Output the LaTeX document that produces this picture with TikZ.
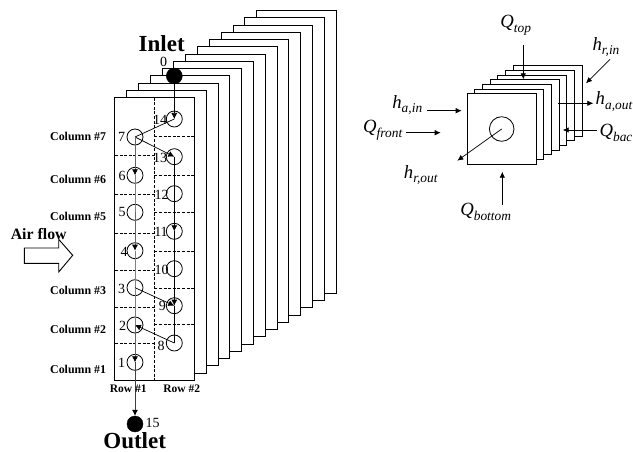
\documentclass[tikz,border=0pt]{standalone}
\usepackage{fontspec}
\setmainfont{Liberation Serif}
\usetikzlibrary{arrows.meta}
\newcommand{\qlab}[2]{{\fontsize{18.7}{19}\selectfont\itshape #1\raisebox{-0.24em}{\fontsize{13.4}{14}\selectfont #2}}}
\tikzset{
  x=1pt,y=-1pt,
  plate/.style={draw=black,fill=white,line width=0.9pt},
  holecirc/.style={circle,draw=black,line width=0.8pt,minimum size=16pt,inner sep=0pt},
  portdot/.style={circle,fill=black,draw=black,minimum size=16pt,inner sep=0pt},
  gridline/.style={dashed,dash pattern=on 3pt off 1.6pt,line width=0.8pt},
  flowtip/.style={-{Latex[length=6pt,width=6pt,black]},line width=0.7pt},
  flowline/.style={line width=0.7pt},
  flowtipgray/.style={flowtip,draw=black!60},
  flowgray/.style={flowline,draw=black!50},
  numlab/.style={inner sep=0pt,font=\fontsize{14}{14}\selectfont},
  collab/.style={inner sep=0pt,anchor=west,font=\fontsize{11.9}{12}\selectfont\bfseries},
  rowlab/.style={inner sep=0pt,font=\fontsize{11.5}{12}\selectfont\bfseries},
  biglab/.style={inner sep=0pt,font=\fontsize{23}{23}\selectfont\bfseries},
  qnode/.style={inner sep=0pt},
  heat/.style={-{Latex[length=6pt,width=5.5pt]},line width=0.7pt},
}
\begin{document}
\begin{tikzpicture}
\useasboundingbox (0,0) rectangle (633,452);
% large stack of plates
\foreach \i in {12,11,...,0}{
  \draw[plate] ({114.7+11.83*\i},{97.7-7.25*\i}) rectangle ({194.3+11.83*\i},{380.3-7.25*\i});
}
% grid
\draw[gridline] (154.3,97.7) -- (154.3,380.3);
\foreach \y in {155.7,194,233,270,307,343.7}{\draw[gridline] (115,\y) -- (154.3,\y);}
\foreach \y in {136.7,175,212.7,251,288,324.7}{\draw[gridline] (154.3,\y) -- (194,\y);}
% holes
\node[holecirc] (n1) at (135,362.3) {};
\node[holecirc] (n2) at (135,325) {};
\node[holecirc] (n3) at (135,287.7) {};
\node[holecirc] (n4) at (135,250.7) {};
\node[holecirc] (n5) at (135,212.3) {};
\node[holecirc] (n6) at (135,175.3) {};
\node[holecirc] (n7) at (135,137) {};
\node[holecirc] (n8) at (174.3,343) {};
\node[holecirc] (n9) at (174.3,305.7) {};
\node[holecirc] (n10) at (174.3,268.7) {};
\node[holecirc] (n11) at (174.3,231.3) {};
\node[holecirc] (n12) at (174.3,193.7) {};
\node[holecirc] (n13) at (174.3,156.7) {};
\node[holecirc] (n14) at (174.3,119) {};
\node[portdot] (inlet) at (174.3,76) {};
\node[portdot] (outlet) at (135,424) {};
% connectors
\draw[flowtip] (inlet) -- (n14.center);
\draw[flowline] (n14.center) -- (n7.center);
\draw[flowtip] (n7.center) -- (n13.center);
\draw[flowline] (n13.center) -- (n12.center);
\draw[flowtip] (n12.center) -- (n11.center);
\draw[flowline] (n11.center) -- (n10.center);
\draw[flowtip] (n10.center) -- (n9.center);
\draw[flowline] (n9.center) -- (n8.center);
\draw[flowtip] (n8.center) -- (n2.center);
\draw[flowtipgray] (n7.center) -- (n6.center);
\draw[flowgray] (n6.center) -- (n5.center);
\draw[flowtipgray] (n5.center) -- (n4.center);
\draw[flowgray] (n4.center) -- (n3.center);
\draw[flowtip] (n3.center) -- (n9.center);
\draw[flowgray] (n3.center) -- (n2.center);
\draw[flowtipgray] (n2.center) -- (n1.center);
\draw[flowtipgray,draw=black!75] (n1.center) -- (outlet);
% numbers
\node[numlab] (l0) at (163.7,61.5) {0};
\node[numlab] (l14) at (160,120) {14};
\node[numlab] (l7) at (121.7,137) {7};
\node[numlab] (l13) at (160,158) {13};
\node[numlab] (l6) at (122,176) {6};
\node[numlab] (l12) at (161.5,194.5) {12};
\node[numlab] (l5) at (122,212) {5};
\node[numlab] (l11) at (161,232) {11};
\node[numlab] (l4) at (124,252) {4};
\node[numlab] (l10) at (161.7,269.7) {10};
\node[numlab] (l3) at (121.7,288.7) {3};
\node[numlab] (l9) at (162.3,306) {9};
\node[numlab] (l2) at (122.7,326.3) {2};
\node[numlab] (l8) at (161,346) {8};
\node[numlab] (l1) at (121.7,363) {1};
\node[numlab] (l15) at (152.5,422.5) {15};
% column and row labels
\node[collab] (c7) at (50,136) {Column \#7};
\node[collab] (c6) at (50,179) {Column \#6};
\node[collab] (c5) at (50,216) {Column \#5};
\node[collab] (c3) at (50,290) {Column \#3};
\node[collab] (c2) at (50,329) {Column \#2};
\node[collab] (c1) at (50,369) {Column \#1};
\node[rowlab] (r1) at (128.3,389) {Row \#1};
\node[rowlab] (r2) at (181.7,389) {Row \#2};
\node[biglab] (inl) at (161.7,43.5) {Inlet};
\node[biglab] (outl) at (134.7,440.5) {Outlet};
\node[inner sep=0pt,font=\fontsize{15.8}{16}\selectfont\bfseries] (air) at (38.7,234.3) {Air flow};
% block arrow
\draw[line width=0.9pt,fill=white] (24.3,248) -- (58.7,248) -- (58.7,239.3) -- (72.7,255.3) -- (58.7,272) -- (58.7,263.3) -- (24.3,263.3) -- cycle;
% small stack
\foreach \i in {6,5,...,0}{
  \draw[plate,line width=0.8pt] ({467+7.7*\i},{93.7-4.67*\i}) rectangle ({536+7.7*\i},{164-4.67*\i});
}
\node[circle,draw=black,line width=0.8pt,minimum size=24.6pt,inner sep=0pt] (hole) at (501.7,129) {};
% labels on the right
\node[qnode] (qtop) at (515.7,25) {\qlab{Q}{top}};
\node[qnode] (hrin) at (606,47) {\qlab{h}{r,in}};
\node[qnode] (haout) at (614,101.7) {\qlab{h}{a,out}};
\node[qnode] (qbac) at (616,133) {\qlab{Q}{bac}};
\node[qnode] (hain) at (407.3,105) {\qlab{h}{a,in}};
\node[qnode] (qfront) at (382.7,130) {\qlab{Q}{front}};
\node[qnode] (hrout) at (420.7,175) {\qlab{h}{r,out}};
\node[qnode] (qbot) at (485.7,211.7) {\qlab{Q}{bottom}};
\coordinate (qtopA) at (523.3,45);
\coordinate (qtopB) at (523.3,79.3);
\coordinate (hrinA) at (610,59.3);
\coordinate (hrinB) at (586,83.3);
\coordinate (haoutA) at (558.3,103.3);
\coordinate (haoutB) at (593.3,103.3);
\coordinate (qbacA) at (596.7,130);
\coordinate (qbacB) at (562.7,130);
\coordinate (hainA) at (427.3,110.7);
\coordinate (hainB) at (461.7,110.7);
\coordinate (qfrontA) at (406,132.7);
\coordinate (qfrontB) at (440.7,132.7);
\coordinate (hroutB) at (457.3,160.7);
\coordinate (qbotA) at (502.3,205);
\coordinate (qbotB) at (502.3,171.7);
\draw[heat] (qtopA) -- (qtopB);
\draw[heat] (hrinA) -- (hrinB);
\draw[heat] (haoutA) -- (haoutB);
\draw[heat] (qbacA) -- (qbacB);
\draw[heat] (hainA) -- (hainB);
\draw[heat] (qfrontA) -- (qfrontB);
\draw[heat] (hole.center) -- (hroutB);
\draw[heat] (qbotA) -- (qbotB);
\end{tikzpicture}
\end{document}
